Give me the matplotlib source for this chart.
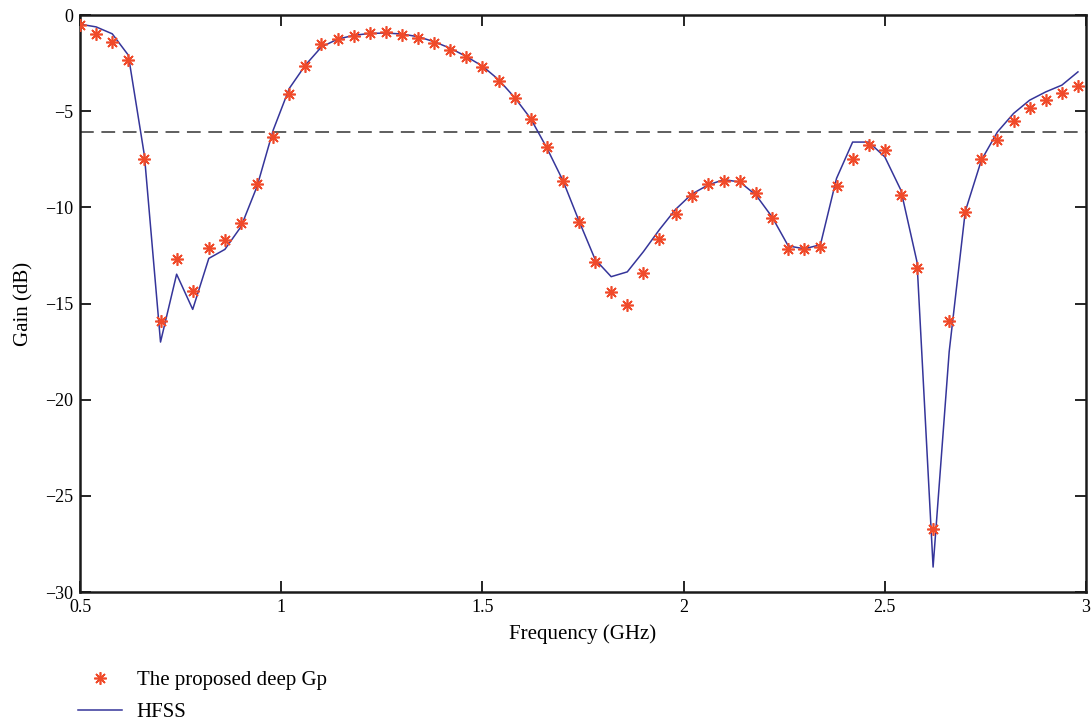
import matplotlib
matplotlib.use('Agg')
import matplotlib.pyplot as plt

# frequency grid (GHz)
freq = [0.50, 0.54, 0.58, 0.62, 0.66, 0.70, 0.74, 0.78, 0.82, 0.86,
        0.90, 0.94, 0.98, 1.02, 1.06, 1.10, 1.14, 1.18, 1.22, 1.26,
        1.30, 1.34, 1.38, 1.42, 1.46, 1.50, 1.54, 1.58, 1.62, 1.66,
        1.70, 1.74, 1.78, 1.82, 1.86, 1.90, 1.94, 1.98, 2.02, 2.06,
        2.10, 2.14, 2.18, 2.22, 2.26, 2.30, 2.34, 2.38, 2.42, 2.46,
        2.50, 2.54, 2.58, 2.62, 2.66, 2.70, 2.74, 2.78, 2.82, 2.86,
        2.90, 2.94, 2.98]

# the proposed deep Gp (dB)
gain_gp = [-0.52, -0.97, -1.39, -2.34, -7.50, -15.9, -12.7, -14.33, -12.1, -11.7,
           -10.8, -8.79, -6.33, -4.12, -2.65, -1.52, -1.24, -1.07, -0.95, -0.88,
           -1.02, -1.21, -1.44, -1.80, -2.18, -2.69, -3.40, -4.32, -5.41, -6.85,
           -8.63, -10.75, -12.86, -14.42, -15.08, -13.43, -11.65, -10.32, -9.41, -8.79,
           -8.61, -8.61, -9.27, -10.54, -12.18, -12.15, -12.05, -8.87, -7.47, -6.76,
           -6.99, -9.36, -13.14, -26.7, -15.9, -10.24, -7.50, -6.50, -5.48, -4.82,
           -4.42, -4.04, -3.66]

# HFSS (dB)
gain_hfss = [-0.47, -0.61, -0.97, -2.08, -7.3, -17.0, -13.47, -15.3, -12.65, -12.18,
             -11.0, -8.9, -5.98, -3.81, -2.6, -1.65, -1.25, -1.05, -0.95, -0.93,
             -0.98, -1.12, -1.38, -1.72, -2.15, -2.65, -3.35, -4.28, -5.38, -6.9,
             -8.6, -10.7, -12.7, -13.6, -13.35, -12.3, -11.15, -10.1, -9.31, -8.84,
             -8.55, -8.68, -9.36, -10.5, -12.0, -12.15, -11.94, -8.49, -6.6, -6.6,
             -7.37, -9.1, -12.83, -28.7, -17.5, -10.2, -7.54, -6.07, -5.11, -4.42,
             -3.99, -3.64, -2.95]

threshold = -6.1

plt.rcParams['font.family'] = ['Liberation Serif', 'DejaVu Serif']

fig = plt.figure(figsize=(10.92, 7.22), dpi=100)
ax = fig.add_axes([0.0733, 0.18, 0.9212, 0.799])

ax.plot(freq, gain_gp, linestyle='none', marker=(8, 2, 0), markersize=9,
        markeredgewidth=1.2, color='#f04a2a', label='The proposed deep Gp', zorder=3)
ax.plot(freq, gain_hfss, color='#35359a', linewidth=1.1, label='HFSS', zorder=2)
ax.axhline(threshold, color='#333333', linewidth=1.1, dashes=(9, 5), zorder=1)

ax.set_xlim(0.5, 3.0)
ax.set_ylim(-30, 0)
ax.set_xticks([0.5, 1, 1.5, 2, 2.5, 3])
ax.set_xticklabels(['0.5', '1', '1.5', '2', '2.5', '3'])
ax.set_yticks([-30, -25, -20, -15, -10, -5, 0])
ax.set_yticklabels(['\u221230', '\u221225', '\u221220', '\u221215', '\u221210', '\u22125', '0'])
ax.tick_params(direction='in', length=8, width=1.2, top=True, right=True,
               labelsize=13, pad=5)
for sp in ax.spines.values():
    sp.set_linewidth(1.8)
    sp.set_color('#1a1a1a')

ax.set_xlabel('Frequency (GHz)', fontsize=15, labelpad=6)
ax.set_ylabel('Gain (dB)', fontsize=15, labelpad=8)

ax.legend(loc='upper left', bbox_to_anchor=(0.0714, 0.071), bbox_transform=fig.transFigure,
          frameon=False, fontsize=15, handlelength=2.1, handletextpad=0.72,
          labelspacing=0.6, borderaxespad=0, borderpad=0)

fig.savefig('out.png', dpi=100)
